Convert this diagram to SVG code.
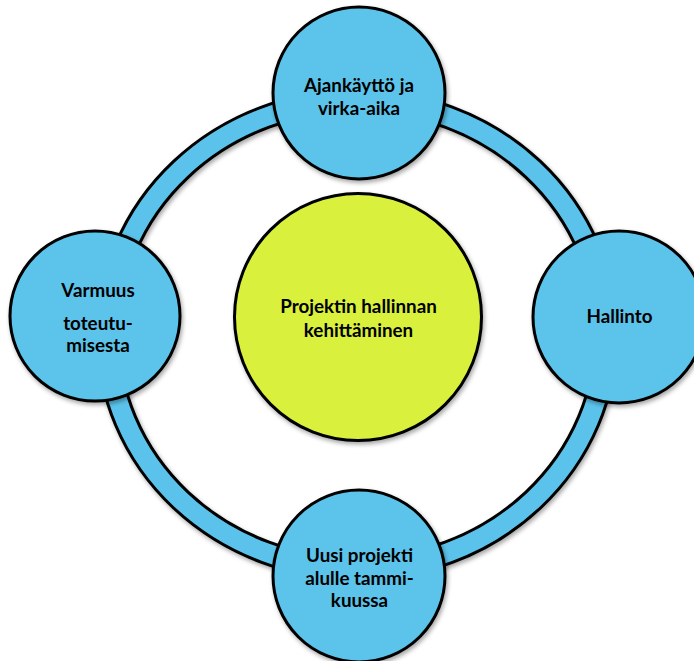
<svg xmlns="http://www.w3.org/2000/svg" width="694" height="661" viewBox="0 0 694 661">
  <defs>
    <filter id="shadow" x="-20%" y="-20%" width="140%" height="140%">
      <feDropShadow dx="1.5" dy="2.5" stdDeviation="2" flood-color="#000" flood-opacity="0.35"/>
    </filter>
  </defs>
  <style>
    .node { fill: #5BC3EB; stroke: #000; stroke-width: 3; }
    .hub { fill: #D9F03D; stroke: #000; stroke-width: 3; }
    .ring-edge { fill: none; stroke: #000; stroke-width: 24.5; }
    .ring-fill { fill: none; stroke: #5BC3EB; stroke-width: 18.5; }
    .label { font-family: Lato, "Liberation Sans", sans-serif; font-weight: bold; font-size: 18.8px; fill: #000; text-anchor: middle; }
  </style>

  <rect width="694" height="661" fill="#fff"/>

  <!-- cycle ring joining the four outer nodes -->
  <g id="connectors">
    <ellipse class="ring-edge" cx="357" cy="334.7" rx="249" ry="234" filter="url(#shadow)"/>
    <ellipse class="ring-fill" cx="357" cy="334.7" rx="249" ry="234"/>
  </g>

  <g id="node-center">
    <circle class="hub" cx="358" cy="317" r="123.5" filter="url(#shadow)"/>
    <text class="label" x="358.5" y="313">Projektin hallinnan</text>
    <text class="label" x="358.5" y="337">kehittäminen</text>
  </g>

  <g id="node-top">
    <circle class="node" cx="359" cy="93" r="86" filter="url(#shadow)"/>
    <text class="label" x="359" y="92">Ajankäyttö ja</text>
    <text class="label" x="359" y="115">virka-aika</text>
  </g>

  <g id="node-right">
    <circle class="node" cx="619" cy="317" r="86" filter="url(#shadow)"/>
    <text class="label" x="619.5" y="323">Hallinto</text>
  </g>

  <g id="node-bottom">
    <circle class="node" cx="359" cy="576" r="86" filter="url(#shadow)"/>
    <text class="label" x="359.5" y="562">Uusi projekti</text>
    <text class="label" x="359.5" y="585">alulle tammi-</text>
    <text class="label" x="359.5" y="607">kuussa</text>
  </g>

  <g id="node-left">
    <circle class="node" cx="95" cy="316" r="85" filter="url(#shadow)"/>
    <text class="label" x="98" y="297">Varmuus</text>
    <text class="label" x="98" y="330">toteutu-</text>
    <text class="label" x="98" y="352">misesta</text>
  </g>
</svg>
